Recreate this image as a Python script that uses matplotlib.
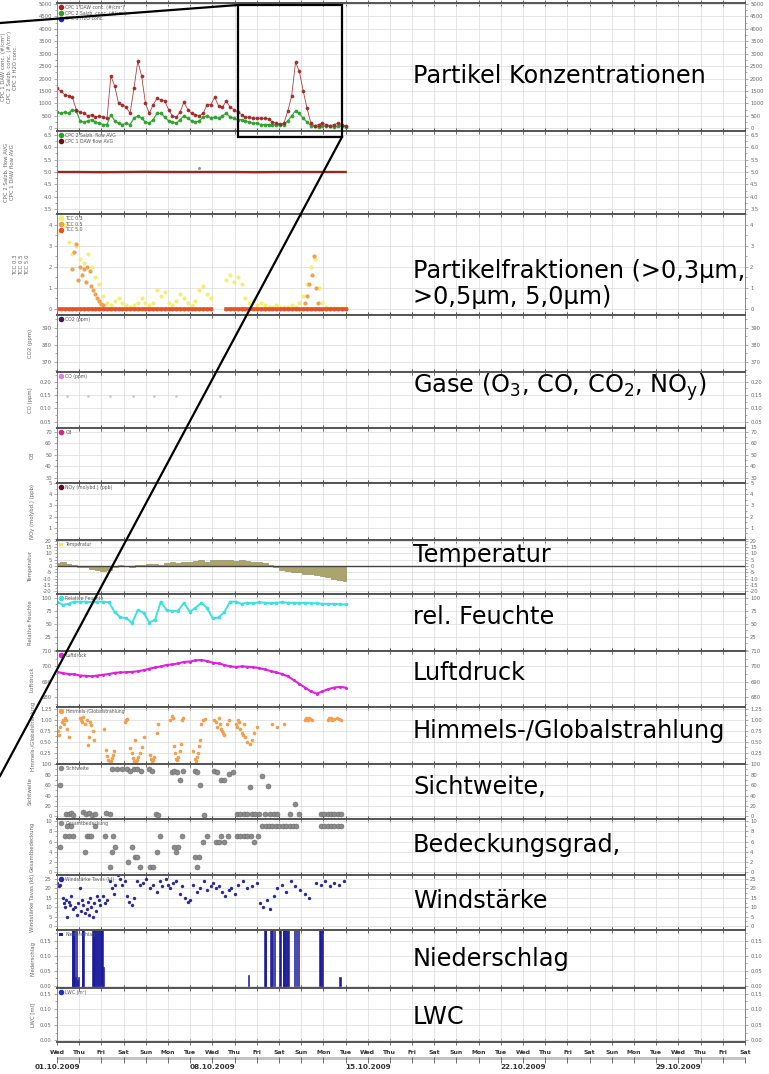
import numpy as np
import matplotlib
matplotlib.use('Agg')
import matplotlib.pyplot as plt
from matplotlib.lines import Line2D
from matplotlib.patches import Rectangle, Patch
from matplotlib.ticker import AutoMinorLocator, FuncFormatter

plt.rcParams['font.family'] = ['DejaVu Sans']
plt.rcParams['mathtext.default'] = 'regular'

W, H = 769, 1074
nan = np.nan

# ---------------- data ----------------
day_labels = ['Wed', 'Thu', 'Fri', 'Sat', 'Sun', 'Mon', 'Tue',
              'Wed', 'Thu', 'Fri', 'Sat', 'Sun', 'Mon', 'Tue',
              'Wed', 'Thu', 'Fri', 'Sat', 'Sun', 'Mon', 'Tue',
              'Wed', 'Thu', 'Fri', 'Sat', 'Sun', 'Mon', 'Tue',
              'Wed', 'Thu', 'Fri', 'Sat']
week_pos = [0, 7, 14, 21, 28]
week_labels = ['01.10.2009', '08.10.2009', '15.10.2009', '22.10.2009', '29.10.2009']

t6 = np.linspace(0, 13, 76)   # ~4-hourly samples, days since 01.10.2009
t4 = np.linspace(0, 13, 51)   # ~6-hourly samples

cpc_daw = [1600, 1500, 1350, 1300, 1250, 750,
           650, 600, 500, 550, 450, 500,
           450, 400, 2100, 1700, 1000, 950,
           850, 600, 1600, 2700, 2100, 1000,
           600, 950, 1200, 1150, 1100, 750,
           500, 450, 650, 1050, 750, 600,
           550, 500, 600, 950, 950, 1250,
           900, 850, 1100, 850, 750, 650,
           550, 450, 450, 400, 420, 400,
           400, 380, 250, 200, 180, 200,
           700, 1300, 2650, 2300, 1500, 800,
           200, 100, 150, 200, 150, 100,
           150, 200, 150, 100]
cpc_salzb = [650, 600, 650, 600, 750, 700,
             300, 250, 300, 350, 250, 200,
             150, 150, 550, 300, 200, 150,
             200, 150, 400, 500, 400, 250,
             200, 350, 600, 600, 450, 300,
             250, 200, 350, 500, 400, 300,
             250, 300, 450, 500, 400, 450,
             400, 500, 600, 450, 400, 350,
             350, 300, 250, 200, 200, 150,
             150, 150, 120, 150, 130, 150,
             300, 500, 700, 600, 400, 250,
             100, 80, 60, 80, 100, 80,
             60, 80, 100, 60]

t_flow = [0, 1, 2, 3, 4, 5, 6, 7, 8, 9, 10, 11, 12, 13]
flow_daw = [5.0, 5.0, 4.99, 5.0, 5.01, 5.0, 5.0, 5.0, 5.0, 4.99, 5.0, 5.0, 5.0, 5.0]
flow_salzb = [5.0, 5.0, 5.0, 5.0, 5.0, 5.0, 5.0, 5.0, 5.0, 5.0, 5.0, 5.0, 5.0, 5.0]
flow_outlier = [(6.4, 5.15)]

tcc03 = [3.6, 4.4, 4.0, 3.2, 2.6, 3.0,
         2.4, 2.2, 2.6, 2.0, 1.5, 1.2,
         0.6, 0.3, 0.2, 0.4, 0.5, 0.3,
         0.2, 0.1, 0.2, 0.3, 0.5, 0.3,
         0.2, 0.3, 0.9, 0.6, 0.8, 0.3,
         0.2, 0.4, 0.7, 0.5, 0.3, 0.2,
         0.4, 0.9, 1.1, 0.7, 0.5, nan,
         nan, nan, 1.4, 1.6, 1.3, 1.5,
         1.2, 0.5, 0.3, 0.4, 0.2, 0.3,
         0.2, 0.1, 0.1, 0.2, 0.1, 0.1,
         0.1, 0.2, 0.1, 0.3, 0.6, 1.2,
         2.0, 2.4, 1.0, 0.3, 0.1, 0.05,
         0.05, 0.05, 0.05, 0.05]
tcc05_pts = [(0.69, 1.9), (0.77, 2.7), (0.86, 3.1), (0.95, 1.4), (1.03, 2.0), (1.12, 1.6),
             (1.21, 1.9), (1.29, 1.3), (1.37, 2.0), (1.47, 1.8), (1.55, 1.1), (1.63, 0.9),
             (1.73, 0.7), (1.81, 0.5), (1.89, 0.4), (1.98, 0.25), (2.07, 0.2),
             (11.16, 0.3), (11.26, 0.6), (11.36, 1.2), (11.47, 1.6), (11.57, 2.5),
             (11.67, 1.0), (11.78, 0.3)]
tcc50 = [0.0] * 41 + [nan] * 3 + [0.0] * 32

co_pts = [(0.46, 0.145), (1.39, 0.145), (2.38, 0.145), (3.41, 0.145), (4.39, 0.147),
          (5.37, 0.145), (7.33, 0.146)]

temperature = [2.5, 3.0, 2.0, 0.5,
               -0.5, -1.0, -2.0, -3.0,
               -4.0, -3.0, -1.0, 0.5,
               0.0, -0.5, 0.5, 1.0,
               1.5, 2.0, 1.0, 2.5,
               3.0, 2.5, 3.5, 3.0,
               4.0, 4.5, 3.5, 4.5,
               5.0, 4.5, 5.0, 4.0,
               4.5, 4.0, 3.5, 3.0,
               2.5, 1.0, -1.0, -3.0,
               -4.0, -5.0, -4.5, -6.0,
               -6.5, -7.0, -8.0, -9.0,
               -10.0, -11.0, -12.0]

humidity = [92, 86, 88, 92,
            92, 92, 91, 92,
            92, 91, 72, 62,
            61, 51, 76, 71,
            52, 58, 92, 76,
            74, 75, 90, 73,
            80, 90, 80, 60,
            62, 72, 92, 92,
            88, 90, 89, 91,
            90, 89, 90, 91,
            90, 90, 89, 90,
            89, 89, 88, 88,
            88, 87, 87]

pressure = [696.5, 695.5, 695.0, 694.8,
            694.0, 693.8, 693.5, 694.0,
            694.5, 695.0, 695.8, 696.0,
            696.2, 696.4, 696.8, 697.5,
            698.5, 699.3, 700.0, 701.0,
            701.3, 702.0, 703.0, 703.2,
            704.0, 704.3, 703.5, 702.5,
            702.0, 701.0, 700.0, 699.7,
            700.0, 699.8, 699.5, 699.0,
            698.0, 697.0, 696.0, 695.0,
            693.5, 691.0, 688.5, 686.0,
            683.5, 682.0, 683.5, 685.0,
            686.0, 686.5, 686.0]

radiation_pts = [(0.05, 0.75), (0.1, 0.65), (0.15, 0.85), (0.21, 0.95), (0.26, 1.0), (0.31, 0.9),
                 (0.36, 1.05), (0.41, 1.0), (0.46, 0.8), (0.52, 0.62),
                 (1.03, 1.05), (1.08, 1.0), (1.14, 0.95), (1.19, 1.07), (1.24, 0.9), (1.34, 1.0),
                 (1.39, 0.43), (1.45, 0.6), (1.5, 0.95), (1.55, 0.89), (1.6, 0.75), (1.65, 0.55),
                 (2.12, 0.8), (2.22, 0.31), (2.27, 0.18), (2.32, 0.08), (2.38, 0.04), (2.43, 0.06),
                 (2.48, 0.12), (2.53, 0.2), (2.58, 0.3),
                 (3.05, 0.95), (3.1, 1.0), (3.15, 1.02),
                 (3.31, 0.35), (3.36, 0.25), (3.41, 0.12), (3.46, 0.05), (3.51, 0.55), (3.56, 0.04),
                 (3.62, 0.08), (3.67, 0.15), (3.72, 0.25), (3.82, 0.38), (3.93, 0.6),
                 (4.18, 0.2), (4.24, 0.1), (4.29, 0.05), (4.34, 0.08), (4.39, 0.15), (4.49, 0.7),
                 (4.55, 0.9),
                 (5.11, 1.0), (5.17, 1.1), (5.22, 1.05), (5.27, 0.4), (5.32, 0.25), (5.37, 0.1),
                 (5.42, 0.08), (5.47, 0.15), (5.53, 0.3), (5.58, 0.45), (5.63, 1.0), (5.68, 1.05),
                 (6.15, 0.3), (6.2, 0.1), (6.25, 0.05), (6.3, 0.15), (6.35, 0.25), (6.4, 0.4),
                 (6.46, 0.55), (6.51, 0.9), (6.56, 1.0), (6.66, 1.02),
                 (7.08, 1.0), (7.18, 0.95), (7.23, 0.85), (7.28, 1.05), (7.33, 0.9), (7.39, 0.8),
                 (7.44, 0.75), (7.49, 0.7), (7.54, 0.65), (7.64, 0.9), (7.75, 1.0),
                 (8.06, 0.9), (8.11, 0.85), (8.16, 1.0), (8.21, 0.95), (8.26, 0.8), (8.32, 0.7),
                 (8.37, 0.65), (8.42, 0.9), (8.47, 0.6), (8.57, 0.5), (8.68, 0.45), (8.78, 0.55),
                 (8.88, 0.7), (8.99, 0.85),
                 (9.71, 0.9), (9.92, 0.85), (10.23, 0.9),
                 (11.16, 1.0), (11.21, 1.05), (11.26, 1.02), (11.31, 1.0), (11.36, 1.05),
                 (11.41, 1.03), (11.47, 1.0), (12.19, 1.0), (12.24, 1.05), (12.29, 1.02),
                 (12.34, 1.04), (12.4, 1.0), (12.5, 1.03), (12.6, 1.05), (12.71, 1.02),
                 (12.81, 1.0)]

visibility_pts = [(0.13, 60), (0.41, 5), (0.52, 4), (0.62, 6), (0.72, 3), (1.19, 8), (1.32, 4),
                  (1.45, 6), (1.57, 2), (1.7, 5), (2.22, 6), (2.38, 5), (2.48, 90), (2.69, 90),
                  (2.94, 90), (3.15, 90), (3.31, 88), (3.46, 90), (3.62, 90), (3.77, 88),
                  (4.13, 90), (4.29, 88), (4.44, 4), (4.57, 2), (5.17, 85), (5.29, 88),
                  (5.42, 86), (5.56, 70), (5.68, 88), (6.2, 88), (6.32, 86), (6.46, 60),
                  (6.61, 3), (7.08, 87), (7.23, 85), (7.39, 70), (7.54, 70), (7.75, 82),
                  (7.95, 85), (8.11, 5), (8.26, 5), (8.42, 5), (8.57, 5), (8.68, 57), (8.78, 5),
                  (8.94, 5), (9.09, 5), (9.25, 77), (9.35, 5), (9.5, 58), (9.61, 5), (9.76, 5),
                  (9.92, 5), (10.48, 5), (10.74, 24), (10.9, 5), (11.88, 5), (12.03, 5),
                  (12.19, 5), (12.34, 5), (12.5, 5), (12.65, 5), (12.81, 5)]

cloud_pts = [(0.13, 5), (0.36, 7), (0.46, 9), (0.54, 7), (0.62, 9), (0.72, 7), (1.24, 4),
             (1.34, 7), (1.45, 7), (1.55, 7), (1.7, 9), (2.17, 7), (2.38, 1), (2.5, 4),
             (2.63, 5), (2.53, 7), (3.2, 2), (3.36, 5), (3.51, 3), (3.62, 3), (3.74, 1),
             (4.18, 1), (4.31, 1), (4.49, 4), (4.65, 7), (5.27, 5), (5.37, 4), (5.47, 5),
             (5.63, 7), (6.2, 3), (6.3, 1), (6.4, 3), (6.56, 6), (6.77, 7), (7.18, 6),
             (7.28, 6), (7.39, 7), (7.54, 6), (7.7, 7), (8.11, 7), (8.26, 7), (8.42, 7),
             (8.57, 7), (8.73, 7), (8.88, 6), (9.04, 7), (9.25, 9), (9.4, 9), (9.56, 9),
             (9.71, 9), (9.87, 9), (10.02, 9), (10.18, 9), (10.33, 9), (10.48, 9), (10.64, 9),
             (10.79, 9), (11.88, 9), (12.03, 9), (12.19, 9), (12.34, 9), (12.5, 9), (12.65, 9),
             (12.81, 9)]

wind_pts = [(0.02, 23), (0.08, 21), (0.15, 22), (0.26, 15), (0.31, 12), (0.36, 10), (0.41, 14),
            (0.46, 5), (0.52, 13), (0.57, 11), (0.62, 16), (0.72, 9), (0.83, 10), (0.88, 6),
            (0.93, 12), (1.03, 20), (1.08, 8), (1.14, 14), (1.19, 11), (1.24, 7), (1.34, 9),
            (1.39, 13), (1.45, 6), (1.5, 15), (1.55, 10), (1.6, 5), (1.65, 12), (1.76, 8),
            (1.81, 16), (1.91, 14), (1.96, 11), (2.07, 16), (2.17, 12), (2.27, 14), (2.38, 24),
            (2.48, 20), (2.58, 17), (2.63, 22), (2.74, 27), (2.84, 25), (2.94, 22), (3.05, 24),
            (3.15, 16), (3.26, 13), (3.36, 11), (3.46, 15), (3.62, 24), (3.72, 22), (3.87, 23),
            (4.03, 25), (4.18, 20), (4.34, 22), (4.49, 18), (4.65, 24), (4.75, 21), (4.91, 25),
            (5.01, 22), (5.11, 20), (5.22, 23), (5.37, 24), (5.53, 17), (5.63, 21), (5.78, 15),
            (5.89, 13), (6.0, 14), (6.15, 22), (6.3, 18), (6.46, 20), (6.61, 24), (6.77, 19),
            (6.92, 21), (7.02, 23), (7.18, 20), (7.28, 21), (7.44, 18), (7.59, 16), (7.75, 19),
            (7.85, 20), (8.01, 17), (8.16, 22), (8.37, 24), (8.57, 20), (8.78, 21), (8.99, 23),
            (9.14, 12), (9.3, 10), (9.45, 14), (9.61, 9), (9.76, 16), (9.92, 20), (10.12, 22),
            (10.33, 18), (10.54, 24), (10.74, 21), (10.95, 19), (11.16, 17), (11.36, 15),
            (11.67, 23), (11.88, 22), (12.09, 24), (12.29, 21), (12.5, 23), (12.71, 22),
            (12.91, 24)]

rain_pts = [(0.68, 0.2), (0.72, 0.2), (0.75, 0.2), (0.79, 0.2), (0.83, 0.03), (0.87, 0.2),
            (0.91, 0.02), (0.95, 0.03), (1.14, 0.2), (1.17, 0.2), (1.62, 0.2), (1.66, 0.2),
            (1.7, 0.2), (1.75, 0.2), (1.79, 0.2), (1.83, 0.2), (1.87, 0.2), (1.91, 0.2),
            (1.95, 0.2), (1.99, 0.2), (2.03, 0.2), (2.08, 0.063), (8.63, 0.035), (9.37, 0.2),
            (9.4, 0.2), (9.61, 0.2), (9.66, 0.2), (9.71, 0.2), (9.79, 0.2), (10.05, 0.2),
            (10.19, 0.2), (10.23, 0.2), (10.28, 0.2), (10.33, 0.2), (10.38, 0.2), (10.45, 0.2),
            (10.72, 0.2), (10.8, 0.2), (10.9, 0.2), (11.85, 0.2), (11.9, 0.2), (11.96, 0.2),
            (12.75, 0.03)]

# right-hand descriptive labels: (text, y pixel centre)
side_labels = [('Partikel Konzentrationen', 76),
               ('Partikelfraktionen (>0,3µm,\n>0,5µm, 5,0µm)', 284),
               ('Gase (O$_3$, CO, CO$_2$, NO$_y$)', 387),
               ('Temperatur', 555),
               ('rel. Feuchte', 617),
               ('Luftdruck', 673),
               ('Himmels-/Globalstrahlung', 731),
               ('Sichtweite,', 787),
               ('Bedeckungsgrad,', 845),
               ('Windstärke', 901),
               ('Niederschlag', 959),
               ('LWC', 1017)]

# panel layout: top px, bottom px, ylim, yticks, fmt, ylabel, ylabel x px, hidden tick labels
panels = [
    (3, 131, (-110, 5040), list(range(0, 5001, 500)), '%d',
     'CPC 1 DAW conc. (#/cm³)\nCPC 2 Salzb. conc. (#/cm³)\nCPC 3 H2O conc.', 18, []),
    (131, 214, (3.30, 6.66), [3.5, 4.0, 4.5, 5.0, 5.5, 6.0, 6.5], '%.1f',
     'CPC 2 Salzb. flow AVG\nCPC 1 DAW flow AVG', 15, []),
    (214, 315, (-0.29, 4.52), [0, 1, 2, 3, 4], '%d', 'TCC 0.3\nTCC 0.5\nTCC 5.0', 30, []),
    (315, 372, (364.1, 397.6), [370, 380, 390], '%d', 'CO2 (ppm)', 33, []),
    (372, 428, (0.026, 0.236), [0.05, 0.10, 0.15, 0.20], '%.2f', 'CO (ppm)', 33, []),
    (428, 483, (25.4, 73.2), [30, 40, 50, 60, 70], '%d', 'O3', 35, []),
    (483, 540, (-0.09, 5.0), [0, 1, 2, 3, 4, 5], '%d', 'NOy (molybd.) (ppb)', 35, [0]),
    (540, 594, (-22, 20.5), [-20, -15, -10, -5, 0, 5, 10, 15, 20], '%d', 'Temperatur', 33, []),
    (594, 651, (-2, 106.7), [0, 25, 50, 75, 100], '%d', 'Relative Feuchte', 33, [0]),
    (651, 707, (673.2, 710.2), [680, 690, 700, 710], '%d', 'Luftdruck', 35, []),
    (707, 764, (-0.01, 1.30), [0.25, 0.50, 0.75, 1.00, 1.25], '%.2f',
     'Himmels-/Globalstrahlung', 35, []),
    (764, 819, (-5, 100.5), [0, 20, 40, 60, 80, 100], '%d', 'Sichtweite', 33, []),
    (819, 875, (-0.5, 10.4), [0, 2, 4, 6, 8, 10], '%d', 'Gesamtbedeckung', 35, []),
    (875, 930, (-2.1, 27.1), [0, 5, 10, 15, 20, 25], '%d', 'Windstärke Tavas (kt)', 35, []),
    (930, 988, (-0.008, 0.186), [0.00, 0.05, 0.10, 0.15], '%.2f', 'Niederschlag', 35, []),
    (988, 1042, (-0.005, 0.168), [0.00, 0.05, 0.10, 0.15], '%.2f', 'LWC [ml]', 35, []),
]

NDAYS = 31

# ---------------- figure ----------------
fig = plt.figure(figsize=(W / 100, H / 100), dpi=100)
L, R = 57 / W, 745 / W


def make_fmt(fmt, hidden):
    def f(v, pos):
        if any(abs(v - h) < 1e-9 for h in hidden):
            return ''
        return fmt % v
    return FuncFormatter(f)


axes = []
for i, (top, bot, ylim, yt, fmt, ylab, ylx, hidden) in enumerate(panels):
    ax = fig.add_axes([L, 1 - bot / H, R - L, (bot - top) / H])
    ax.set_xlim(0, NDAYS)
    ax.set_ylim(*ylim)
    ax.set_yticks(yt)
    ax.yaxis.set_major_formatter(make_fmt(fmt, hidden))
    ax.yaxis.set_minor_locator(AutoMinorLocator(2))
    ax.set_xticks(range(NDAYS + 1))
    ax.tick_params(axis='y', which='both', left=True, right=True, labelleft=True,
                   labelright=True, labelsize=3.8, labelcolor='#666666', color='#888888',
                   width=0.5, pad=1.5, direction='out')
    ax.tick_params(axis='y', which='major', length=2.2)
    ax.tick_params(axis='y', which='minor', length=1.2)
    ax.tick_params(axis='x', which='both', top=True, bottom=True, direction='inout',
                   length=4, width=0.6, color='#555555', labelbottom=False)
    ax.grid(True, which='major', color='#dadada', lw=0.5)
    ax.set_axisbelow(True)
    for s in ('top', 'bottom'):
        ax.spines[s].set_color('#555555')
        ax.spines[s].set_linewidth(1.4)
    for s in ('left', 'right'):
        ax.spines[s].set_color('#888888')
        ax.spines[s].set_linewidth(0.7)
    ax.set_ylabel(ylab, fontsize=3.9, color='#666666', linespacing=1.3)
    ax.yaxis.set_label_coords((ylx - 57) / (745 - 57), 0.5)
    axes.append(ax)


def leg(ax, handles, labels):
    ax.legend(handles, labels, loc='upper left', frameon=False, fontsize=3.3,
              handlelength=0.9, handletextpad=0.5, labelspacing=0.15,
              borderaxespad=0.25, borderpad=0.2, labelcolor='#555555')


def mk(color, ms=3):
    return Line2D([], [], ls='none', marker='o', ms=ms, color=color)


def xs(pts):
    return [p[0] for p in pts]


def ys(pts):
    return [p[1] for p in pts]


RED, GREEN, BLUE = '#9c2424', '#2ea02e', '#2020d0'

# 1 particle concentrations
ax = axes[0]
ax.plot(t6, cpc_salzb, ls='-', lw=0.9, marker='o', ms=1.7, color=GREEN, alpha=0.9)
ax.plot(t6, cpc_daw, ls='-', lw=0.6, marker='o', ms=1.7, color=RED, alpha=0.85)
leg(ax, [mk(RED), mk(GREEN), mk(BLUE)],
    ['CPC 1 DAW conc. (#/cm³)', 'CPC 2 Salzb. conc. (#/cm³)', 'CPC 3 H2O conc.'])

# 2 flows
ax = axes[1]
ax.plot(t_flow, flow_salzb, color=GREEN, lw=1.6)
ax.plot(t_flow, flow_daw, color=RED, lw=1.6)
ax.plot(xs(flow_outlier), ys(flow_outlier), ls='none', marker='o', ms=1.2, color='#999999')
leg(ax, [mk(GREEN), mk('#6b1010')], ['CPC 2 Salzb. flow AVG', 'CPC 1 DAW flow AVG'])

# 3 TCC
ax = axes[2]
YEL, ORA, TRED = '#f2ee7a', '#f0a050', '#e8502a'
ax.plot(t6, tcc03, ls='none', marker='o', ms=2.0, color=YEL)
ax.plot(xs(tcc05_pts), ys(tcc05_pts), ls='none', marker='o', ms=2.0, color=ORA)
ax.plot(t6, tcc50, color=TRED, lw=2.6, marker='o', ms=1.8)
leg(ax, [mk(YEL), mk(ORA), mk(TRED)], ['TCC 0.3', 'TCC 0.5', 'TCC 5.0'])

# 4 CO2
leg(axes[3], [mk('#3a1a5a')], ['CO2 (ppm)'])
# 5 CO
ax = axes[4]
ax.plot(xs(co_pts), ys(co_pts), ls='none', marker='o', ms=1.0, color='#cccccc')
leg(ax, [mk('#e080e0')], ['CO (ppm)'])
# 6 O3
leg(axes[5], [mk('#e0208a')], ['O3'])
# 7 NOy
leg(axes[6], [mk('#5a1020')], ['NOy (molybd.) (ppb)'])

# 8 Temperature
ax = axes[7]
ax.fill_between(t4, 0, temperature, step='mid', color='#aaa56c', edgecolor='#86824c', lw=0.4)
ax.axhline(0, color='#444444', lw=1.0)
leg(ax, [Patch(facecolor='#f0ec40', edgecolor='none')], ['Temperatur'])

# 9 humidity
ax = axes[8]
CY = '#3ee0e0'
ax.plot(t4, humidity, color=CY, lw=1.4, marker='o', ms=1.6)
leg(ax, [mk(CY)], ['Relative Feuchte'])

# 10 pressure
ax = axes[9]
MAG = '#e020e0'
ax.plot(t4, pressure, color=MAG, lw=1.5, marker='o', ms=1.2)
leg(ax, [mk(MAG)], ['Luftdruck'])

# 11 radiation
ax = axes[10]
ax.plot(xs(radiation_pts), ys(radiation_pts), ls='none', marker='o', ms=1.6, color=ORA)
leg(ax, [mk(ORA)], ['Himmels-/Globalstrahlung'])

# 12 visibility
ax = axes[11]
GR = '#8c8c8c'
ax.plot(xs(visibility_pts), ys(visibility_pts), ls='none', marker='o', ms=3.6, color=GR,
        mec='#6a6a6a', mew=0.4)
leg(ax, [mk(GR)], ['Sichtweite'])

# 13 cloud cover
ax = axes[12]
ax.plot(xs(cloud_pts), ys(cloud_pts), ls='none', marker='o', ms=3.6, color=GR,
        mec='#6a6a6a', mew=0.4)
leg(ax, [mk(GR)], ['Gesamtbedeckung'])

# 14 wind
ax = axes[13]
NAV = '#2a2a9a'
ax.plot(xs(wind_pts), ys(wind_pts), ls='none', marker='o', ms=1.4, color=NAV)
leg(ax, [mk(NAV)], ['Windstärke Tavas (kt)'])

# 15 precipitation
ax = axes[14]
ax.bar(xs(rain_pts), ys(rain_pts), width=0.05, color='#1a1a9a', edgecolor='#1a1a9a', lw=0.4)
leg(ax, [Patch(facecolor='#1a1a9a', edgecolor='none')], ['Niederschlag'])

# 16 LWC
ax = axes[15]
leg(ax, [mk('#2030c0')], ['LWC (m³)'])
ax.tick_params(axis='x', labelbottom=True, labelsize=4.4, labelcolor='#333333', pad=3.5)
ax.set_xticklabels(day_labels)
for lab in ax.get_xticklabels():
    lab.set_fontweight('bold')

# week band
axb = fig.add_axes([L, 1 - 1060 / H, R - L, 3 / H])
axb.set_xlim(0, NDAYS)
axb.set_facecolor('#c4c4c4')
axb.set_yticks([])
for s in axb.spines.values():
    s.set_visible(False)
axb.set_xticks(week_pos)
axb.set_xticks(range(NDAYS + 1), minor=True)
axb.set_xticklabels(week_labels)
axb.tick_params(axis='x', which='both', direction='inout', length=4.5, width=0.6,
                color='#555555', labelsize=5.2, labelcolor='#333333', pad=0.8)
for lab in axb.get_xticklabels():
    lab.set_fontweight('bold')

# right-hand annotation texts
for txt, yp in side_labels:
    fig.text(413 / W, 1 - yp / H, txt, fontsize=17.3, va='center', ha='left',
             color='black', linespacing=1.12)

# zoom highlight box and connector lines
fig.add_artist(Rectangle((238 / W, 1 - 137 / H), (342 - 238) / W, (137 - 5) / H,
                         transform=fig.transFigure, fill=False, ec='black', lw=1.6,
                         zorder=20))
fig.add_artist(Line2D([0 / W, 238 / W], [1 - 23 / H, 1 - 5 / H], transform=fig.transFigure,
                      color='black', lw=1.6, zorder=20))
fig.add_artist(Line2D([342 / W, 0 / W], [1 - 137 / H, 1 - 776 / H], transform=fig.transFigure,
                      color='black', lw=1.6, zorder=20))

fig.savefig('out.png', dpi=100)
